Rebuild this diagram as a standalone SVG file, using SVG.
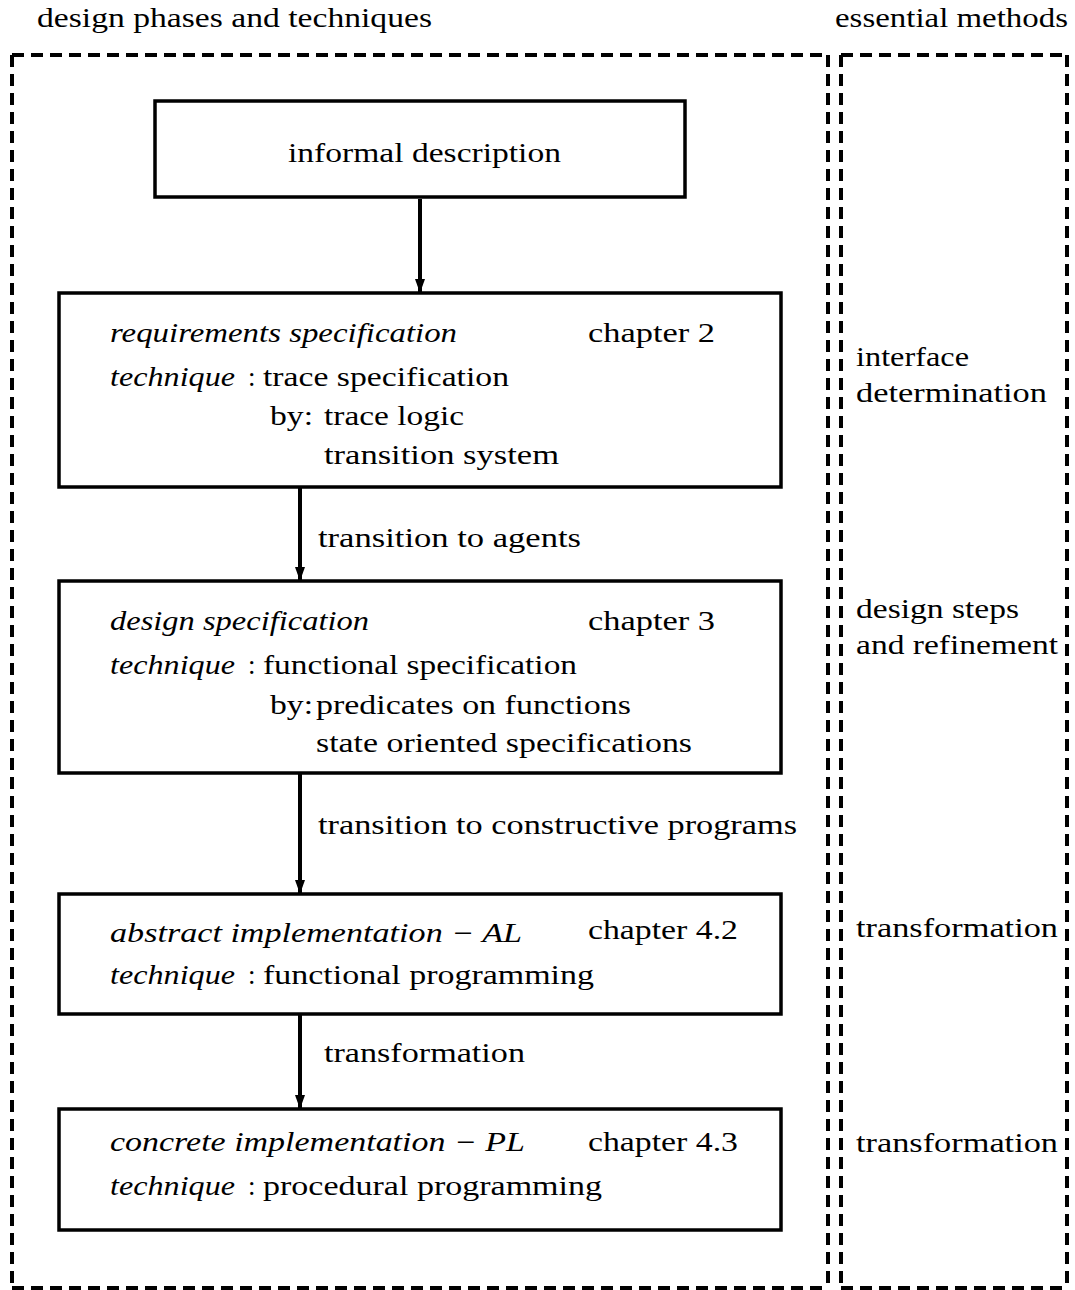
<svg xmlns="http://www.w3.org/2000/svg" width="1075" height="1290" viewBox="0 0 1075 1290">
  <style>
    .t { font-family: "Liberation Serif", "DejaVu Serif", serif; font-size: 27px; fill: #000; }
    .i { font-style: italic; }
    .frame { fill: none; stroke: #000; stroke-width: 4; stroke-dasharray: 12 7; }
    .box { fill: #fff; stroke: #000; stroke-width: 3.5; }
    .conn { stroke: #000; stroke-width: 4; fill: none; marker-end: url(#arr); }
  </style>
  <defs>
    <marker id="arr" markerUnits="userSpaceOnUse" markerWidth="14" markerHeight="10" refX="14" refY="5" orient="auto">
      <path d="M0,0 L14,5 L0,10 z" fill="#000"/>
    </marker>
  </defs>
  <rect width="1075" height="1290" fill="#fff"/>

  <g id="headers">
    <text class="t" x="37" y="27" textLength="395" lengthAdjust="spacingAndGlyphs">design phases and techniques</text>
    <text class="t" x="835" y="27" textLength="233" lengthAdjust="spacingAndGlyphs">essential methods</text>
  </g>

  <g id="frames">
    <line class="frame" x1="12" y1="55" x2="828" y2="55"/>
    <line class="frame" x1="12" y1="1288" x2="828" y2="1288"/>
    <line class="frame" x1="12" y1="55" x2="12" y2="1288"/>
    <line class="frame" x1="828" y1="55" x2="828" y2="1288"/>
    <line class="frame" x1="841" y1="55" x2="1067" y2="55"/>
    <line class="frame" x1="841" y1="1288" x2="1067" y2="1288"/>
    <line class="frame" x1="841" y1="55" x2="841" y2="1288"/>
    <line class="frame" x1="1067" y1="55" x2="1067" y2="1288"/>
  </g>

  <g id="connectors">
    <line class="conn" x1="420" y1="199" x2="420" y2="293"/>
    <line class="conn" x1="300" y1="488" x2="300" y2="581"/>
    <text class="t" x="318" y="547" textLength="263" lengthAdjust="spacingAndGlyphs">transition to agents</text>
    <line class="conn" x1="300" y1="774" x2="300" y2="894"/>
    <text class="t" x="318" y="834" textLength="479" lengthAdjust="spacingAndGlyphs">transition to constructive programs</text>
    <line class="conn" x1="300" y1="1015" x2="300" y2="1109"/>
    <text class="t" x="324" y="1062" textLength="201" lengthAdjust="spacingAndGlyphs">transformation</text>
  </g>

  <g id="informal">
    <rect class="box" x="155" y="101" width="530" height="96"/>
    <text class="t" x="288" y="162" textLength="273" lengthAdjust="spacingAndGlyphs">informal description</text>
  </g>

  <g id="requirements">
    <rect class="box" x="59" y="293" width="722" height="194"/>
    <text class="t i" x="110" y="342" textLength="347" lengthAdjust="spacingAndGlyphs">requirements specification</text>
    <text class="t" x="588" y="342" textLength="127" lengthAdjust="spacingAndGlyphs">chapter 2</text>
    <text class="t i" x="110" y="386" textLength="125" lengthAdjust="spacingAndGlyphs">technique</text>
    <text class="t" x="248" y="386">:</text>
    <text class="t" x="263" y="386" textLength="246" lengthAdjust="spacingAndGlyphs">trace specification</text>
    <text class="t" x="270" y="425" textLength="43" lengthAdjust="spacingAndGlyphs">by:</text>
    <text class="t" x="324" y="425" textLength="140" lengthAdjust="spacingAndGlyphs">trace logic</text>
    <text class="t" x="324" y="464" textLength="235" lengthAdjust="spacingAndGlyphs">transition system</text>
  </g>

  <g id="design">
    <rect class="box" x="59" y="581" width="722" height="192"/>
    <text class="t i" x="110" y="630" textLength="259" lengthAdjust="spacingAndGlyphs">design specification</text>
    <text class="t" x="588" y="630" textLength="127" lengthAdjust="spacingAndGlyphs">chapter 3</text>
    <text class="t i" x="110" y="674" textLength="125" lengthAdjust="spacingAndGlyphs">technique</text>
    <text class="t" x="248" y="674">:</text>
    <text class="t" x="263" y="674" textLength="314" lengthAdjust="spacingAndGlyphs">functional specification</text>
    <text class="t" x="270" y="714" textLength="43" lengthAdjust="spacingAndGlyphs">by:</text>
    <text class="t" x="316" y="714" textLength="315" lengthAdjust="spacingAndGlyphs">predicates on functions</text>
    <text class="t" x="316" y="752" textLength="376" lengthAdjust="spacingAndGlyphs">state oriented specifications</text>
  </g>

  <g id="abstract">
    <rect class="box" x="59" y="894" width="722" height="120"/>
    <text class="t i" x="110" y="942" textLength="412" lengthAdjust="spacingAndGlyphs">abstract implementation − AL</text>
    <text class="t" x="588" y="939" textLength="150" lengthAdjust="spacingAndGlyphs">chapter 4.2</text>
    <text class="t i" x="110" y="984" textLength="125" lengthAdjust="spacingAndGlyphs">technique</text>
    <text class="t" x="248" y="984">:</text>
    <text class="t" x="263" y="984" textLength="331" lengthAdjust="spacingAndGlyphs">functional programming</text>
  </g>

  <g id="concrete">
    <rect class="box" x="59" y="1109" width="722" height="121"/>
    <text class="t i" x="110" y="1151" textLength="415" lengthAdjust="spacingAndGlyphs">concrete implementation − PL</text>
    <text class="t" x="588" y="1151" textLength="150" lengthAdjust="spacingAndGlyphs">chapter 4.3</text>
    <text class="t i" x="110" y="1195" textLength="125" lengthAdjust="spacingAndGlyphs">technique</text>
    <text class="t" x="248" y="1195">:</text>
    <text class="t" x="263" y="1195" textLength="339" lengthAdjust="spacingAndGlyphs">procedural programming</text>
  </g>

  <g id="methods">
    <text class="t" x="856" y="366" textLength="113" lengthAdjust="spacingAndGlyphs">interface</text>
    <text class="t" x="856" y="402" textLength="191" lengthAdjust="spacingAndGlyphs">determination</text>
    <text class="t" x="856" y="618" textLength="163" lengthAdjust="spacingAndGlyphs">design steps</text>
    <text class="t" x="856" y="654" textLength="202" lengthAdjust="spacingAndGlyphs">and refinement</text>
    <text class="t" x="856" y="937" textLength="202" lengthAdjust="spacingAndGlyphs">transformation</text>
    <text class="t" x="856" y="1152" textLength="202" lengthAdjust="spacingAndGlyphs">transformation</text>
  </g>
</svg>
